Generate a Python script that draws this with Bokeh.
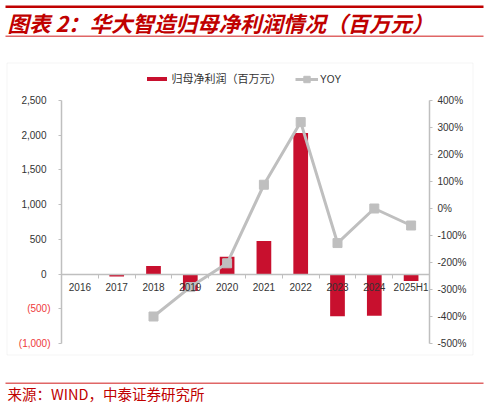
import math
from bokeh.plotting import figure
from bokeh.models import (Range1d, LinearAxis, FixedTicker, NumeralTickFormatter,
                          PrintfTickFormatter, Label, BoxAnnotation, Legend, LegendItem)
from bokeh.embed import file_html
from bokeh.resources import INLINE

# ---------------- data ----------------
categories = ["2016", "2017", "2018", "2019", "2020", "2021", "2022", "2023", "2024", "2025H1"]
net_profit = [0, -35, 115, -245, 250, 477, 2033, -607, -600, -100]          # 百万元
yoy_pct = [math.nan, math.nan, -400, -291, -203, 88, 320, -128, 0, -63]    # %
left_ticks = [-1000, -500, 0, 500, 1000, 1500, 2000, 2500]
left_neg_labels = {-1000: "(1,000)", -500: "(500)"}
right_ticks = [-500, -400, -300, -200, -100, 0, 100, 200, 300, 400]
left_lim = (-1000, 2500)
right_lim = (-500, 400)

title_text = "图表 2：华大智造归母净利润情况（百万元）"
source_text = "来源：WIND，中泰证券研究所"
bar_name = "归母净利润（百万元）"
line_name = "YOY"

# ---------------- layout (pixels) ----------------
W, H = 488, 406
PL, PR, PT, PB = 61, 429, 100, 343      # plot area edges

RED = "#C8102E"
DARKRED = "#C00000"
LIGHTRED = "#E06666"
GRAY = "#BFBFBF"
TXT = "#333333"

n = len(categories)
xs = list(range(n))

def full_range(lo, hi, p_lo, p_hi, total):
    # maps [lo, hi] to pixel [p_lo, p_hi] and extends to the full canvas [0, total]
    k = (hi - lo) / (p_hi - p_lo)
    return Range1d(lo - p_lo * k, hi + (total - p_hi) * k)

def full_range_y(lo, hi):
    k = (hi - lo) / (PB - PT)
    return Range1d(lo - (H - PB) * k, hi + PT * k)

p = figure(width=W, height=H, output_backend="svg", toolbar_location=None,
           x_range=full_range(-0.5, n - 0.5, PL, PR, W),
           y_range=full_range_y(*left_lim),
           min_border=0, background_fill_color="white", border_fill_color="white")
p.outline_line_color = None
p.xgrid.visible = False
p.ygrid.visible = False
p.extra_y_ranges = {"yoy": full_range_y(*right_lim)}

# decorations (canvas units)
def box(l, r, t, b, fill=None, line=None, lw=1):
    return BoxAnnotation(left=l, right=r, top=t, bottom=b,
                         left_units="canvas", right_units="canvas",
                         top_units="canvas", bottom_units="canvas",
                         fill_color=fill if fill else "white", fill_alpha=1 if fill else 0,
                         line_color=line, line_width=lw, level="underlay")

p.add_layout(box(5, 483, 5, 7.5, fill=DARKRED))
p.add_layout(box(5, 483, 35, 36.5, fill=LIGHTRED))
p.add_layout(box(6.5, 472.5, 62.5, 354.5, line="#D9D9D9"))
p.add_layout(box(5, 483, 382, 383.5, fill=LIGHTRED))

p.add_layout(Label(x=7, y=22, x_units="canvas", y_units="canvas", text=title_text,
                   text_align="left", text_baseline="middle", text_font="Noto Sans CJK SC",
                   text_font_style="bold italic", text_font_size="21.5px", text_color=DARKRED))
p.add_layout(Label(x=7, y=393, x_units="canvas", y_units="canvas", text=source_text,
                   text_align="left", text_baseline="middle", text_font="Noto Sans CJK SC",
                   text_font_size="14.5px", text_color=DARKRED))

# marks
bars = p.vbar(x=xs, top=net_profit, width=0.4, fill_color=RED, line_color=None)
ln = p.line(x=xs, y=yoy_pct, line_color=GRAY, line_width=3, y_range_name="yoy")
mk = p.scatter(x=xs, y=yoy_pct, marker="square", size=9, fill_color=GRAY, line_color=GRAY,
               y_range_name="yoy")

# x axis at zero
xa = p.xaxis[0]
xa.fixed_location = 0
xa.bounds = (-0.5, n - 0.5)
xa.ticker = FixedTicker(ticks=xs, minor_ticks=[i + 0.5 for i in xs[:-1]])
xa.major_label_overrides = {i: c for i, c in enumerate(categories)}
xa.axis_line_color = GRAY
xa.axis_line_width = 1.5
xa.major_tick_line_color = None
xa.major_tick_out = 0
xa.major_tick_in = 0
xa.minor_tick_line_color = GRAY
xa.minor_tick_out = 4
xa.minor_tick_in = 0
xa.major_label_standoff = 4
xa.major_label_text_font = "Liberation Sans"
xa.major_label_text_font_size = "10px"
xa.major_label_text_color = TXT

# left axis
ya = p.yaxis[0]
ya.fixed_location = -0.5
ya.bounds = left_lim
ya.ticker = FixedTicker(ticks=left_ticks)
ya.formatter = NumeralTickFormatter(format="0,0")
ya.major_label_overrides = {k: " " for k in left_neg_labels}
ya.axis_line_color = GRAY
ya.axis_line_width = 1.5
ya.major_tick_line_color = GRAY
ya.major_tick_out = 3
ya.major_tick_in = 0
ya.minor_tick_line_color = None
ya.major_label_standoff = 12
ya.major_label_text_font = "Liberation Sans"
ya.major_label_text_font_size = "10px"
ya.major_label_text_color = TXT

for val, txt in left_neg_labels.items():
    p.add_layout(Label(x=50, y=val, x_units="canvas", y_units="data", text=txt,
                       text_align="right", text_baseline="middle",
                       text_font="Liberation Sans", text_font_size="10px", text_color="#EE3B3B"))

# right axis
ra = LinearAxis(y_range_name="yoy", ticker=FixedTicker(ticks=right_ticks),
                formatter=PrintfTickFormatter(format="%d%%"))
ra.fixed_location = n - 0.5
ra.bounds = right_lim
ra.axis_line_color = GRAY
ra.axis_line_width = 1.5
ra.major_tick_line_color = GRAY
ra.major_tick_out = 3
ra.major_tick_in = 0
ra.minor_tick_line_color = None
ra.major_label_standoff = 5
ra.major_label_text_font = "Liberation Sans"
ra.major_label_text_font_size = "10px"
ra.major_label_text_color = TXT
p.add_layout(ra, "right")

# legends (location = left / bottom edge, measured from the bottom-left of the frame)
leg1 = Legend(items=[LegendItem(label=bar_name, renderers=[bars])], location=(143.5, H - 86),
              orientation="horizontal", glyph_width=25, glyph_height=5, label_height=12,
              label_standoff=3, padding=0, margin=0, border_line_color=None,
              background_fill_alpha=0, label_text_font="Noto Sans CJK SC",
              label_text_font_size="11px", label_text_color=TXT)
leg2 = Legend(items=[LegendItem(label=line_name, renderers=[ln, mk])], location=(295, H - 87),
              orientation="horizontal", glyph_width=23, glyph_height=16, label_height=12,
              label_standoff=2, padding=0, margin=0, border_line_color=None,
              background_fill_alpha=0, label_text_font="Liberation Sans",
              label_text_font_size="10px", label_text_color=TXT)
p.add_layout(leg1)
p.add_layout(leg2)

open("out.html", "w").write(file_html(p, INLINE))
